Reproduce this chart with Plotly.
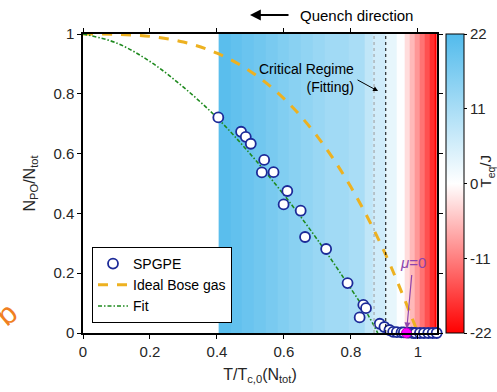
import plotly.graph_objects as go

# SPGPE condensate fraction vs. reduced temperature
spgpe_x = [0.404, 0.472, 0.486, 0.501, 0.541, 0.534, 0.569, 0.610, 0.599, 0.650,
           0.663, 0.726, 0.790, 0.837, 0.845, 0.826, 0.886, 0.900, 0.915, 0.926,
           0.937, 0.951, 0.958, 0.972, 0.981, 0.987, 0.993, 1.006, 1.018, 1.031,
           1.044, 1.056]
spgpe_y = [0.721, 0.673, 0.656, 0.633, 0.579, 0.537, 0.538, 0.475, 0.430, 0.409,
           0.321, 0.281, 0.167, 0.094, 0.083, 0.052, 0.031, 0.020, 0.010, 0.004,
           0.003, 0.002, 0.002, 0.001, 0.001, 0.0, 0.0, 0.0, 0.0, 0.0,
           0.0, 0.0]

# ideal Bose gas curve
ideal_x = [0.0, 0.1, 0.2, 0.3, 0.4, 0.5, 0.6, 0.7, 0.8, 0.9, 1.0]
ideal_y = [1.0, 0.999, 0.992, 0.973, 0.936, 0.875, 0.784, 0.657, 0.488, 0.271, 0.0]

# fitted curve
fit_x = [0.0, 0.1, 0.2, 0.3, 0.4, 0.5, 0.6, 0.7, 0.8, 0.85, 0.88]
fit_y = [1.0, 0.970, 0.908, 0.822, 0.720, 0.598, 0.462, 0.312, 0.148, 0.062, 0.0]

# mu = 0 point
mu0_x = [0.966]
mu0_y = [0.0]

# quench temperature stripes: edges along T/Tc and colour value per stripe
stripe_edges = [0.405, 0.44, 0.475, 0.51, 0.545, 0.58, 0.615, 0.65, 0.685, 0.722,
                0.794, 0.842, 0.866, 0.904, 0.937, 0.961, 0.976, 0.991, 1.006,
                1.021, 1.036, 1.051, 1.057]
stripe_vals = [21, 20, 19, 18, 17, 16, 15, 14, 13, 12, 11, 8, 6, 3, 0.3,
               -3, -6, -9, -12, -15, -18, -22]

crit_lines = [0.869, 0.904]
cbar_ticks = [22, 11, 0, -11, -22]
x_ticks = [0, 0.2, 0.4, 0.6, 0.8, 1]
y_ticks = [0, 0.2, 0.4, 0.6, 0.8, 1]

FONT = "Liberation Sans, Arial, sans-serif"
TXT = "#262626"

# page geometry (px): plot area spans x 83..437, y 34..333
W, H = 497, 392
ML, MR, MT, MB = 83, 0, 20, 20
PX0, PX1, PY0, PY1 = 83, 437, 34, 333
paper_w = W - ML - MR
paper_h = H - MT - MB


def px_x(p):
    return (p - ML) / paper_w


def px_y(p):
    return (H - MB - p) / paper_h


PW = PX1 - PX0  # plot-area width for domain-relative placement

fig = go.Figure()

fig.add_trace(go.Heatmap(
    x=stripe_edges, y=[0, 1], z=[stripe_vals],
    zmin=-22, zmax=22,
    colorscale=[[0, "#ff0000"], [0.5, "#ffffff"], [1, "#52bbec"]],
    showlegend=False, hoverinfo="skip",
    colorbar=dict(
        x=px_x(446), xanchor="left", xpad=0,
        y=(px_y(PY0) + px_y(PY1)) / 2, yanchor="middle", ypad=0,
        len=PY1 - PY0, lenmode="pixels", thickness=18,
        outlinecolor="black", outlinewidth=1,
        tickvals=cbar_ticks, ticktext=[str(v) for v in cbar_ticks],
        ticks="outside", ticklen=3, tickcolor="black",
        tickfont=dict(family=FONT, size=15, color=TXT),
    ),
))

fig.add_trace(go.Scatter(
    x=ideal_x, y=ideal_y, mode="lines", name="Ideal Bose gas",
    line=dict(color="#edb120", width=3, dash="10px,9px", shape="spline"),
    legendrank=2,
))
fig.add_trace(go.Scatter(
    x=fit_x, y=fit_y, mode="lines", name="Fit",
    line=dict(color="#1f8a1f", width=1.6, dash="4px,2px,1.5px,2px", shape="spline"),
    legendrank=3,
))
fig.add_trace(go.Scatter(
    x=spgpe_x, y=spgpe_y, mode="markers", name="SPGPE",
    marker=dict(symbol="circle", size=10, color="white",
                line=dict(color="#1c2a98", width=1.8)),
    cliponaxis=False, legendrank=1,
))
fig.add_trace(go.Scatter(
    x=mu0_x, y=mu0_y, mode="markers", showlegend=False,
    marker=dict(symbol="circle", size=10, color="#ff00ff",
                line=dict(color="#b000b0", width=1)),
    cliponaxis=False,
))

for xv, col in zip(crit_lines, ["#9a9a9a", "#000000"]):
    fig.add_shape(type="line", x0=xv, x1=xv, y0=0, y1=1, xref="x", yref="y",
                  line=dict(color=col, width=1, dash="3px,3px"), layer="above")

XD, YD = "x domain", "y domain"
ann = [
    # quench direction arrow and label
    dict(x=(250 - PX0) / PW, y=1.0635, xref=XD, yref=YD, text="",
         showarrow=True, ax=40, ay=0, arrowhead=2, arrowsize=1.2,
         arrowwidth=1.8, arrowcolor="black"),
    dict(x=(298 - PX0) / PW, y=1.0635, xref=XD, yref=YD,
         text="Quench direction", showarrow=False, xanchor="left",
         yanchor="middle", font=dict(family=FONT, size=15, color="black")),
    # critical regime label
    dict(x=(356 - PX0) / PW, y=0.853, xref=XD, yref=YD,
         text="Critical Regime<br>(Fitting)", align="right",
         showarrow=False, xanchor="right", yanchor="middle",
         font=dict(family=FONT, size=14, color="black")),
    dict(x=0.881, y=0.809, xref="x", yref="y", text="",
         showarrow=True, ax=-22, ay=-12, arrowhead=2, arrowsize=1,
         arrowwidth=1, arrowcolor="black"),
    # mu = 0 marker label
    dict(x=0.967, y=0.015, xref="x", yref="y", text="",
         showarrow=True, ax=5, ay=-55, arrowhead=2, arrowsize=1,
         arrowwidth=1.2, arrowcolor="#8e44ad"),
    dict(x=0.985, y=0.237, xref="x", yref="y", text="<i>μ</i>=0",
         showarrow=False, xanchor="center", yanchor="middle",
         font=dict(family=FONT, size=15, color="#8e44ad")),
    # colour bar title
    dict(x=(487 - PX0) / PW, y=0.54, xref=XD, yref=YD,
         text="T<sub>eq</sub>/J", showarrow=False, textangle=-90,
         xanchor="center", yanchor="middle",
         font=dict(family=FONT, size=15, color=TXT)),
    # panel letter at the left edge
    dict(x=-0.215, y=0.065, xref=XD, yref=YD, text="b",
         showarrow=False, textangle=-40, xanchor="center", yanchor="middle",
         font=dict(family=FONT, size=30, color="#f07f22")),
]

fig.update_layout(
    width=W, height=H,
    margin=dict(l=ML, r=MR, t=MT, b=MB),
    paper_bgcolor="white", plot_bgcolor="white",
    font=dict(family=FONT, size=15, color=TXT),
    annotations=ann,
    legend=dict(x=px_x(92), y=px_y(323), xanchor="left", yanchor="bottom",
                bgcolor="white", bordercolor="black", borderwidth=1,
                font=dict(family=FONT, size=14, color="black"),
                itemwidth=30, tracegroupgap=0),
    xaxis=dict(domain=[px_x(PX0), px_x(PX1)], range=[0, 1.057], tickvals=x_ticks,
               ticktext=[f"{v:g}" for v in x_ticks],
               showline=True, linecolor="black", linewidth=1.5, mirror="ticks",
               ticks="outside", ticklen=4, tickcolor="black", tickwidth=1.2,
               showgrid=False, zeroline=False,
               title=dict(text="T/T<sub>c,0</sub>(N<sub>tot</sub>)", standoff=10,
                          font=dict(family=FONT, size=16, color=TXT))),
    yaxis=dict(domain=[px_y(PY1), px_y(PY0)], range=[0, 1], tickvals=y_ticks,
               ticktext=[f"{v:g}" for v in y_ticks],
               showline=True, linecolor="black", linewidth=1.5, mirror="ticks",
               ticks="outside", ticklen=4, tickcolor="black", tickwidth=1.2,
               showgrid=False, zeroline=False,
               title=dict(text="N<sub>PO</sub>/N<sub>tot</sub>", standoff=14,
                          font=dict(family=FONT, size=16, color=TXT))),
)

fig.write_html("out.html")
